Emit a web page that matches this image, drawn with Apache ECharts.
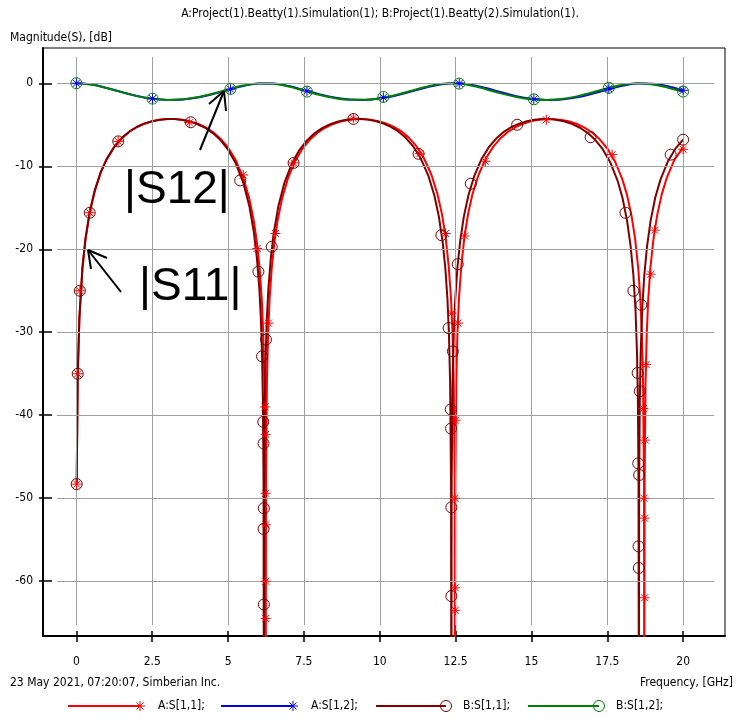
<!DOCTYPE html>
<html><head><meta charset="utf-8">
<script src="https://cdn.jsdelivr.net/npm/echarts@6/dist/echarts.min.js"></script>
<style>html,body{margin:0;padding:0;background:#fff}#c{width:736px;height:719px}</style>
</head><body><div id="c"></div>
<script>
// ---------- text ----------
const titleText = 'A:Project(1).Beatty(1).Simulation(1); B:Project(1).Beatty(2).Simulation(1).';
const yAxisTitle = 'Magnitude(S), [dB]';
const xAxisTitle = 'Frequency, [GHz]';
const footerText = '23 May 2021, 07:20:07, Simberian Inc.';
const legendNames = ['A:S[1,1];', 'A:S[1,2];', 'B:S[1,1];', 'B:S[1,2];'];
const noteS12 = '|S12|';
const noteS11 = '|S11|';

// ---------- ticks ----------
const yTicks = [0, -10, -20, -30, -40, -50, -60];
const xTicks = [0, 2.5, 5, 7.5, 10, 12.5, 15, 17.5, 20];

// ---------- curves [GHz, dB] ----------
const A11 = [[0.01,-48.3],[0.045,-35.2],[0.1,-28.3],[0.2,-22.3],[0.3,-18.8],[0.44,-15.6],[0.6,-13.1],[0.8,-10.8],[1.0,-9.17],[1.25,-7.69],[1.5,-6.63],[1.75,-5.84],[2.0,-5.27],[2.25,-4.87],[2.5,-4.58],[2.75,-4.40],[3.0,-4.31],[3.25,-4.31],[3.5,-4.40],[3.75,-4.59],[4.0,-4.88],[4.25,-5.29],[4.5,-5.87],[4.75,-6.67],[5.0,-7.74],[5.25,-9.24],[5.5,-11.39],[5.7,-13.9],[5.85,-16.6],[5.95,-19.13],[6.04,-22.26],[6.11,-26.0],[6.16,-30.2],[6.2,-36.2],[6.23,-48.3],[6.24,-80],[6.25,-48.3],[6.28,-36.2],[6.32,-30.2],[6.37,-26.0],[6.44,-22.26],[6.53,-19.13],[6.63,-16.6],[6.78,-13.9],[6.98,-11.39],[7.2,-9.46],[7.45,-7.90],[7.7,-6.79],[7.95,-5.96],[8.2,-5.36],[8.45,-4.93],[8.7,-4.62],[8.95,-4.42],[9.2,-4.32],[9.45,-4.31],[9.7,-4.38],[9.95,-4.56],[10.2,-4.83],[10.45,-5.22],[10.7,-5.76],[10.95,-6.52],[11.2,-7.55],[11.45,-8.97],[11.7,-10.99],[11.9,-13.32],[12.05,-15.77],[12.17,-18.52],[12.27,-21.93],[12.35,-26.0],[12.4,-30.2],[12.44,-36.2],[12.47,-48.3],[12.48,-80],[12.49,-48.3],[12.52,-36.2],[12.56,-30.2],[12.61,-26.0],[12.69,-21.93],[12.79,-18.52],[12.91,-15.77],[13.06,-13.32],[13.26,-10.99],[13.5,-9.04],[13.75,-7.60],[14.0,-6.56],[14.25,-5.79],[14.5,-5.24],[14.75,-4.84],[15.0,-4.56],[15.25,-4.39],[15.5,-4.31],[15.75,-4.32],[16.0,-4.41],[16.25,-4.61],[16.5,-4.91],[16.75,-5.34],[17.0,-5.93],[17.25,-6.75],[17.5,-7.86],[17.75,-9.39],[18.0,-11.61],[18.15,-13.45],[18.3,-15.98],[18.42,-18.83],[18.52,-22.26],[18.59,-26.0],[18.64,-30.2],[18.68,-36.2],[18.71,-48.3],[18.72,-80],[18.73,-48.3],[18.76,-36.2],[18.8,-30.2],[18.85,-26.0],[18.92,-22.26],[19.02,-18.83],[19.14,-15.98],[19.29,-13.45],[19.45,-11.50],[19.7,-9.31],[20.0,-7.7]];

const B11 = [[0.01,-48.2],[0.045,-35.1],[0.1,-28.2],[0.2,-22.2],[0.3,-18.71],[0.44,-15.49],[0.6,-12.97],[0.8,-10.72],[1.0,-9.11],[1.25,-7.64],[1.5,-6.58],[1.75,-5.80],[2.0,-5.24],[2.25,-4.84],[2.5,-4.56],[2.75,-4.39],[3.0,-4.31],[3.25,-4.32],[3.5,-4.42],[3.75,-4.62],[4.0,-4.94],[4.25,-5.38],[4.5,-6.00],[4.75,-6.85],[5.0,-8.00],[5.25,-9.62],[5.5,-11.97],[5.7,-14.78],[5.85,-17.94],[5.95,-21.05],[6.03,-24.68],[6.08,-28.2],[6.12,-32.6],[6.15,-38.6],[6.17,-48.2],[6.18,-80],[6.19,-48.2],[6.21,-38.6],[6.24,-32.6],[6.28,-28.2],[6.33,-24.7],[6.41,-21.05],[6.51,-17.94],[6.66,-14.78],[6.86,-11.97],[7.1,-9.70],[7.35,-8.05],[7.6,-6.89],[7.85,-6.03],[8.1,-5.40],[8.35,-4.96],[8.6,-4.64],[8.85,-4.43],[9.1,-4.32],[9.35,-4.31],[9.6,-4.38],[9.85,-4.55],[10.1,-4.82],[10.35,-5.22],[10.6,-5.77],[10.85,-6.54],[11.1,-7.59],[11.35,-9.04],[11.6,-11.12],[11.8,-13.52],[11.95,-16.10],[12.07,-19.04],[12.16,-22.2],[12.23,-25.9],[12.28,-30.1],[12.32,-36.1],[12.35,-48.2],[12.36,-80],[12.37,-48.2],[12.4,-36.1],[12.44,-30.1],[12.49,-25.9],[12.56,-22.2],[12.65,-19.04],[12.77,-16.10],[12.92,-13.52],[13.12,-11.12],[13.35,-9.17],[13.6,-7.68],[13.85,-6.62],[14.1,-5.82],[14.35,-5.26],[14.6,-4.86],[14.85,-4.57],[15.1,-4.40],[15.35,-4.31],[15.6,-4.32],[15.85,-4.42],[16.1,-4.61],[16.35,-4.92],[16.6,-5.36],[16.85,-5.97],[17.1,-6.81],[17.35,-7.94],[17.6,-9.54],[17.85,-11.86],[18.0,-13.80],[18.15,-16.52],[18.27,-19.66],[18.36,-23.1],[18.43,-27.3],[18.48,-32.6],[18.51,-38.6],[18.53,-48.2],[18.54,-80],[18.55,-48.2],[18.57,-38.6],[18.6,-32.6],[18.65,-27.3],[18.72,-23.1],[18.81,-19.66],[18.93,-16.52],[19.08,-13.80],[19.25,-11.64],[19.5,-9.39],[19.75,-7.85],[20.0,-6.8]];

const A12 = [[0,0],[0.5,-0.16],[1.0,-0.56],[1.5,-1.07],[2.0,-1.53],[2.5,-1.86],[3.0,-2.01],[3.5,-1.96],[4.0,-1.71],[4.5,-1.30],[5.0,-0.80],[5.5,-0.33],[6.0,-0.04],[6.5,-0.04],[7.0,-0.34],[7.5,-0.82],[8.0,-1.32],[8.5,-1.72],[9.0,-1.96],[9.5,-2.01],[10.0,-1.85],[10.5,-1.51],[11.0,-1.04],[11.5,-0.54],[12.0,-0.14],[12.5,0],[13.0,-0.17],[13.5,-0.58],[14.0,-1.08],[14.5,-1.55],[15.0,-1.87],[15.5,-2.01],[16.0,-1.95],[16.5,-1.70],[17.0,-1.28],[17.5,-0.78],[18.0,-0.31],[18.5,-0.03],[19.0,-0.05],[19.5,-0.36],[20.0,-0.84]];

const B12 = [[0,0],[0.5,-0.16],[1.0,-0.57],[1.5,-1.08],[2.0,-1.55],[2.5,-1.87],[3.0,-2.01],[3.5,-1.95],[4.0,-1.68],[4.5,-1.26],[5.0,-0.75],[5.5,-0.28],[6.0,-0.02],[6.5,-0.07],[7.0,-0.40],[7.5,-0.89],[8.0,-1.39],[8.5,-1.78],[9.0,-1.99],[9.5,-2.00],[10.0,-1.80],[10.5,-1.43],[11.0,-0.94],[11.5,-0.44],[12.0,-0.08],[12.5,-0.01],[13.0,-0.26],[13.5,-0.71],[14.0,-1.22],[14.5,-1.65],[15.0,-1.93],[15.5,-2.02],[16.0,-1.89],[16.5,-1.58],[17.0,-1.12],[17.5,-0.61],[18.0,-0.18],[18.5,0],[19.0,-0.14],[19.5,-0.53],[20.0,-1.04]];

// ---------- marker samples [GHz, dB] ----------
const A11marks = [[0.01,-48.3],[0.045,-35.0],[0.115,-25.0],[0.44,-15.6],[1.38,-7.0],[3.72,-4.75],[5.5,-11.05],[5.96,-19.9],[6.22,-39.0],[6.24,-42.3],[6.24,-49.4],[6.24,-53.2],[6.24,-60.0],[6.24,-64.5],[6.33,-28.9],[6.56,-18.1],[7.16,-9.6],[9.13,-4.2],[11.32,-8.5],[12.17,-18.1],[12.37,-27.7],[12.5,-40.6],[12.48,-50.0],[12.49,-60.8],[12.49,-63.5],[12.58,-28.9],[12.8,-18.4],[13.48,-9.4],[15.49,-4.4],[17.66,-8.6],[18.69,-39.2],[18.74,-43.0],[18.71,-50.0],[18.73,-52.4],[18.73,-62.0],[18.78,-33.9],[18.93,-23.0],[19.06,-17.7],[20.0,-7.95]];

const B11marks = [[0.01,-48.3],[0.045,-35.0],[0.115,-25.0],[0.44,-15.6],[1.38,-7.0],[3.77,-4.7],[5.4,-11.7],[6.0,-22.7],[6.12,-32.9],[6.16,-40.8],[6.17,-43.4],[6.18,-51.2],[6.17,-53.7],[6.18,-62.8],[6.25,-30.9],[6.44,-19.7],[7.16,-9.6],[9.13,-4.3],[11.28,-8.5],[12.03,-18.3],[12.27,-29.5],[12.34,-39.3],[12.35,-41.6],[12.36,-51.1],[12.36,-61.8],[12.41,-32.3],[12.57,-21.8],[13.0,-12.1],[14.53,-5.0],[16.95,-6.5],[18.1,-15.6],[18.36,-25.0],[18.5,-34.9],[18.52,-45.8],[18.55,-47.2],[18.53,-55.8],[18.54,-58.4],[18.57,-37.1],[18.62,-26.7],[19.59,-8.6],[20.0,-6.8]];

const A12marks = [[0,0],[2.51,-1.85],[5.08,-0.71],[7.6,-0.92],[10.12,-1.7],[12.62,-0.02],[15.08,-1.9],[17.55,-0.65],[20.0,-0.85]];
const B12marks = [[0,0],[2.51,-1.85],[5.08,-0.68],[7.6,-1.0],[10.12,-1.65],[12.62,-0.04],[15.08,-1.93],[17.55,-0.55],[20.0,-1.0]];

// ---------- styling ----------
const FONT = "'Liberation Sans Narrow','DejaVu Sans Condensed','Liberation Sans',Arial,sans-serif";
const C_A11 = '#ff0000', C_A12 = '#0000ff', C_B11 = '#800000', C_B12 = '#008000';
const STAR = 'path://M5,0L5,10M0,5L10,5M1.5,1.5L8.5,8.5M8.5,1.5L1.5,8.5';
const X_MIN = -1.1, X_MAX = 21.38, Y_MIN = -66.6, Y_MAX = 4.25;

const gridLines = [];
yTicks.forEach(v => gridLines.push([{coord:[-0.64, v]}, {coord:[21.02, v]}]));
xTicks.forEach(v => gridLines.push([{coord:[v, 3.17]}, {coord:[v, -65.3]}]));

function lineSeries(data, color, smooth, z) {
  return {type:'line', data, showSymbol:false, symbol:'none', smooth, z,
    lineStyle:{color, width:2}, itemStyle:{color}, silent:true};
}
function markSeries(data, color, star, z) {
  return {type:'scatter', data, z, silent:true,
    symbol: star ? STAR : 'circle', symbolSize: star ? 10 : 11,
    itemStyle:{color:'rgba(0,0,0,0)', borderColor:color, borderWidth:1, opacity:1}};
}

const axisTickStyle = {color:'#000', width:1.5};
const option = {
  animation:false,
  backgroundColor:'#fff',
  grid:{left:43, right:11, top:48, bottom:83, show:true, borderColor:'#000', borderWidth:1, backgroundColor:'#fff'},
  xAxis:[
    {type:'value', min:X_MIN, max:X_MAX, position:'bottom',
     axisLine:{show:true, onZero:false, lineStyle:{color:'#000', width:2}},
     axisTick:{show:true, inside:true, length:5, customValues:xTicks, lineStyle:axisTickStyle},
     axisLabel:{show:true, customValues:xTicks, margin:20, color:'#000', fontFamily:FONT, fontSize:12},
     splitLine:{show:false}},
    {type:'value', min:X_MIN, max:X_MAX, position:'bottom',
     axisLine:{show:false, onZero:false},
     axisTick:{show:true, inside:false, length:6, customValues:xTicks, lineStyle:axisTickStyle},
     axisLabel:{show:false}, splitLine:{show:false}}
  ],
  yAxis:[
    {type:'value', min:Y_MIN, max:Y_MAX, position:'left',
     axisLine:{show:true, onZero:false, lineStyle:{color:'#000', width:2}},
     axisTick:{show:true, inside:true, length:9, customValues:yTicks, lineStyle:axisTickStyle},
     axisLabel:{show:true, customValues:yTicks, margin:10, color:'#000', fontFamily:FONT, fontSize:12},
     splitLine:{show:false}},
    {type:'value', min:Y_MIN, max:Y_MAX, position:'left',
     axisLine:{show:false, onZero:false},
     axisTick:{show:true, inside:false, length:4, customValues:yTicks, lineStyle:axisTickStyle},
     axisLabel:{show:false}, splitLine:{show:false}}
  ],
  series:[
    {type:'line', data:[], z:1, silent:true,
     markLine:{silent:true, animation:false, symbol:['none','none'], label:{show:false},
       lineStyle:{color:'#a0a0a0', width:1, type:'solid'}, emphasis:{disabled:true}, data:gridLines}},
    lineSeries(A11, C_A11, false, 3),
    lineSeries(A12, C_A12, 0.4, 3),
    lineSeries(B11, C_B11, false, 4),
    lineSeries(B12, C_B12, 0.4, 4),
    markSeries(A11marks, C_A11, true, 5),
    markSeries(A12marks, C_A12, true, 5),
    markSeries(B11marks, C_B11, false, 6),
    markSeries(B12marks, C_B12, false, 6)
  ],
  graphic:[]
};

function txt(text, x, y, align, font) {
  return {type:'text', x, y, silent:true, z:100,
    style:{text, font: font || ('12px ' + FONT), fill:'#000', textAlign:align, align:align,
           textVerticalAlign:'middle', verticalAlign:'middle'}};
}
function seg(x1, y1, x2, y2, color, w) {
  return {type:'line', silent:true, z:100, shape:{x1, y1, x2, y2}, style:{stroke:color, lineWidth:w}};
}
function star(cx, cy, color) {
  const r = 5, d = 3.5;
  return [seg(cx-r, cy, cx+r, cy, color, 1), seg(cx, cy-r, cx, cy+r, color, 1),
          seg(cx-d, cy-d, cx+d, cy+d, color, 1), seg(cx+d, cy-d, cx-d, cy+d, color, 1)];
}
function ring(cx, cy, color) {
  return {type:'circle', silent:true, z:100, shape:{cx, cy, r:5.5}, style:{fill:'none', stroke:color, lineWidth:1}};
}

const g = option.graphic;
g.push(txt(titleText, 380, 14, 'center'));
g.push(txt(yAxisTitle, 10, 38, 'left'));
g.push(txt(footerText, 10, 683, 'left'));
g.push(txt(xAxisTitle, 733, 683, 'right'));
// legend
const LY = 706;
const legendDefs = [
  {x0:68, x1:140, color:C_A11, star:true, tx:158},
  {x0:221, x1:293, color:C_A12, star:true, tx:311},
  {x0:376, x1:446, color:C_B11, star:false, tx:463},
  {x0:528, x1:599, color:C_B12, star:false, tx:616}
];
legendDefs.forEach((d, i) => {
  g.push(seg(d.x0, LY, d.x1, LY, d.color, 2));
  if (d.star) star(d.x1, LY, d.color).forEach(e => g.push(e)); else g.push(ring(d.x1, LY, d.color));
  g.push(txt(legendNames[i], d.tx, LY, 'left'));
});
// annotations
const BIG = "46px 'Liberation Sans',Arial,sans-serif";
g.push(txt(noteS12, 124, 190, 'left', BIG));
g.push(txt(noteS11, 139, 287, 'left', BIG));
g.push(seg(200, 150, 224, 91, '#000', 2));
g.push(seg(224, 91, 209, 104, '#000', 2));
g.push(seg(224, 91, 226, 111, '#000', 2));
g.push(seg(121, 292, 88, 250, '#000', 2));
g.push(seg(88, 250, 107, 258, '#000', 2));
g.push(seg(88, 250, 91, 269, '#000', 2));

const chart = echarts.init(document.getElementById('c'), null, {renderer:'canvas'});
chart.setOption(option);
</script>
</body></html>
